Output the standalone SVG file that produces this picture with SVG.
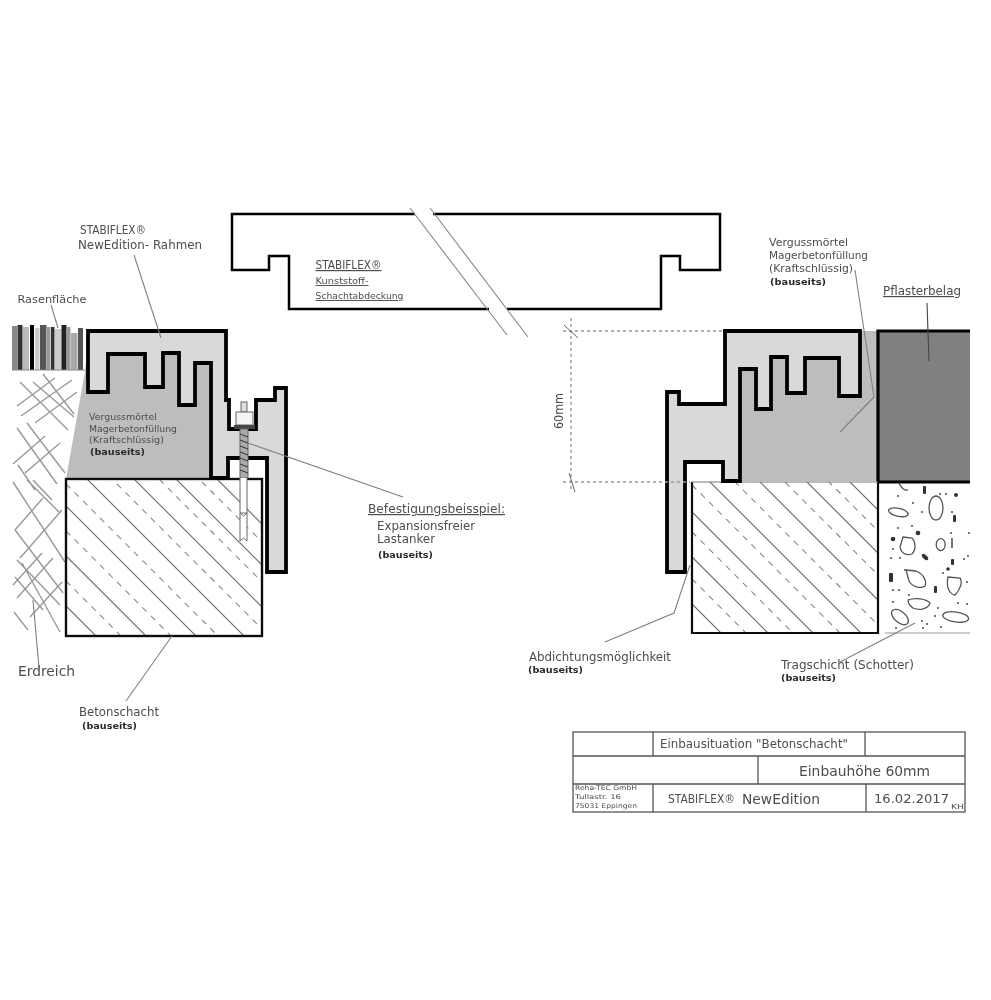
<svg xmlns="http://www.w3.org/2000/svg" width="991" height="1000" viewBox="0 0 991 1000">
<defs>
<filter id="soft" x="0" y="0" width="991" height="1000" filterUnits="userSpaceOnUse"><feGaussianBlur stdDeviation="0.5"/></filter>
<clipPath id="clipL"><rect x="66" y="479" width="196" height="157"/></clipPath>
<clipPath id="clipR"><rect x="692" y="482" width="186" height="151"/></clipPath>
</defs>
<style>
text{font-family:"DejaVu Sans","Liberation Sans",sans-serif;fill:#4d4d4d}
.b{font-weight:bold;fill:#2a2a2a;font-size:9.500px}
.u{text-decoration:underline}
.frame{fill:#d9d9d9;stroke:#000;stroke-width:3.800;stroke-linejoin:miter}
.grout{fill:#bdbdbd}
.box{fill:#fff;stroke:#111;stroke-width:2.200}
.hs{fill:none;stroke:#666;stroke-width:1.100}
.hd{fill:none;stroke:#888;stroke-width:1.100;stroke-dasharray:6 6}
.lead{fill:none;stroke:#808080;stroke-width:1.100}
.lead-dark{fill:none;stroke:#444;stroke-width:1.100}
.earth{fill:none;stroke:#999;stroke-width:1.400}
.rock{fill:none;stroke:#555;stroke-width:1.300}
.dim{fill:none;stroke:#999;stroke-width:1.400;stroke-dasharray:3 3}
.cover{fill:none;stroke:#000;stroke-width:2.500}
.tb{fill:none;stroke:#555;stroke-width:1.300}
.dk{fill:#333}
.dt{fill:#777}
</style>
<rect width="991" height="1000" fill="#fff"/>
<g filter="url(#soft)">
<g id="rasen">
<rect x="12" y="326" width="5" height="44" fill="#888"/><rect x="17.500" y="325" width="5" height="45" fill="#333"/><rect x="23" y="327" width="6" height="43" fill="#bbb"/><rect x="30" y="325" width="4" height="45" fill="#000"/><rect x="35" y="328" width="4.500" height="42" fill="#ccc"/><rect x="40" y="325" width="6.500" height="45" fill="#555"/><rect x="47" y="327" width="3.500" height="43" fill="#999"/><rect x="51" y="327" width="3.500" height="43" fill="#333"/><rect x="55" y="329" width="6.500" height="41" fill="#ccc"/><rect x="61.500" y="325" width="5" height="45" fill="#222"/><rect x="66.500" y="327" width="4" height="43" fill="#999"/><rect x="71" y="333" width="6.500" height="37" fill="#aaa"/><rect x="78" y="328" width="5" height="42" fill="#555"/>
<path d="M12 370H85" stroke="#888" stroke-width="1"/>
</g>
<g id="erdreich-schraffur" class="earth">
<path d="M17 406L55 378M21 416L72 380M35 423L77 392M13 464L45 436M25 473L60 443M20 382L68 430M33 382L74 417M43 374L74 414M27 423L65 473M17 428L57 484M18 465L35 490M13 482L65 562M27 480L60 513M15 530L43 498M20 558L62 510M15 530L63 593M17 560L60 605M15 577L43 610M22 563L60 632M13 585L42 553M17 598L53 558M30 617L62 582M33 480L52 500M14 612L28 630"/>
</g>
<g id="verguss-links"><path class="grout" d="M85 371L66 479H211V340H88Z"/></g>
<g id="betonschacht-links">
<rect class="box" x="66" y="479" width="196" height="157"/>
<g clip-path="url(#clipL)">
<path class="hs" d="M66 328L262 524M66 411L262 607M66 506L262 702M66 556L262 752M66 606L262 802M66 369L262 565M66 458L262 654"/>
<path class="hd" d="M66 346L262 542M66 386L262 582M66 433L262 629M66 484L262 680M66 531L262 727M66 581L262 777"/>
</g>
<rect x="66" y="479" width="196" height="157" fill="none" stroke="#111" stroke-width="2.200"/>
</g>
<g id="rahmen-links"><path class="frame" d="M88 331H226V400H229V429H256V400H275V388H286V572H267V458H228V478H211V363H195V405H179V353H163V387H145V354H108V392H88Z"/></g>
<g id="anker">
<rect x="241" y="402" width="6" height="10" fill="#ddd" stroke="#666" stroke-width="1"/>
<rect x="236" y="412" width="17" height="13" fill="#f4f4f4" stroke="#666" stroke-width="1"/>
<rect x="234" y="425" width="21" height="4" fill="#444"/>
<rect x="240" y="429" width="8" height="49" fill="#aaa" stroke="#666" stroke-width="1"/>
<path d="M240 434L248 437M240 440L248 443M240 446L248 449M240 452L248 455M240 458L248 461M240 464L248 467M240 470L248 473" stroke="#333" stroke-width="1"/>
<path d="M240 478V513L243.500 516L247 513V478M240 513V541L243.500 538L247 541V513M240 513H247" fill="#fff" stroke="#666" stroke-width="1"/>
</g>
<g id="deckel">
<path class="cover" d="M415 214H232V270H269V256H289V309H489M507 309H661V256H680V270H720V214H433"/>
<path d="M410 208L507 335M430 208L528 337" fill="none" stroke="#888" stroke-width="1.100"/>
</g>
<g id="verguss-rechts"><rect class="grout" x="725" y="331" width="153" height="150"/></g>
<g id="pflasterbelag">
<rect x="878" y="331" width="92" height="150" fill="#808080"/>
<path d="M970 331H878V482H970" fill="none" stroke="#000" stroke-width="3.200"/>
</g>
<g id="tragschicht">
<path class="rock" d="M899 483C901 488 905 491 908 490"/>
<ellipse class="rock" cx="898.300" cy="512.300" rx="10" ry="4" transform="rotate(12 898.300 512.300)"/>
<ellipse class="rock" cx="936" cy="508" rx="7" ry="12"/>
<path class="rock" d="M903 537L912 538C916 542 916 550 912 554C906 556 901 553 900 547Z"/>
<ellipse class="rock" cx="940.700" cy="544.700" rx="4.500" ry="6"/>
<path class="rock" d="M906 570L916 571C924 574 927 582 925 586C921 589 912 587 909 581Z"/>
<path class="rock" d="M948 577L960 578C963 582 960 590 955 595C949 594 946 587 948 577Z"/>
<path class="rock" d="M908 600C916 597 926 599 930 603C928 609 920 611 913 608C910 606 908 603 908 600Z"/>
<ellipse class="rock" cx="900" cy="617" rx="10" ry="5.500" transform="rotate(40 900 617)"/>
<ellipse class="rock" cx="955.700" cy="617" rx="13" ry="5" transform="rotate(8 955.700 617)"/>
<rect class="dk" x="923" y="486" width="3" height="8" rx="1"/><circle class="dk" cx="956" cy="495" r="2"/><rect class="dk" x="953" y="515" width="3" height="7" rx="1"/><circle class="dk" cx="918" cy="533" r="2.300"/><circle class="dk" cx="893" cy="539" r="2.300"/><rect class="dt" x="951" y="538" width="2" height="10"/><ellipse class="dk" cx="925" cy="557" rx="4" ry="2" transform="rotate(45 925 557)"/><rect class="dk" x="951" y="559" width="3" height="6" rx="1"/><circle class="dk" cx="948" cy="569" r="1.800"/><rect class="dk" x="889" y="573" width="4" height="9" rx="1"/><rect class="dk" x="934" y="586" width="3" height="7" rx="1"/>
<path class="dt" d="M897 495h2v2h-2zM912 502h2v2h-2zM921 511h2v2h-2zM951 511h2v2h-2zM911 525h2v2h-2zM897 527h2v2h-2zM950 532h2v2h-2zM968 532h2v2h-2zM892 548h2v2h-2zM890 557h2v2h-2zM899 557h2v2h-2zM904 569h2v2h-2zM963 558h2v2h-2zM967 555h2v2h-2zM942 572h2v2h-2zM966 581h2v2h-2zM892 589h2v2h-2zM898 589h2v2h-2zM908 594h2v2h-2zM892 601h2v2h-2zM937 607h2v2h-2zM957 602h2v2h-2zM966 603h2v2h-2zM934 615h2v2h-2zM921 620h2v2h-2zM926 623h2v2h-2zM922 627h2v2h-2zM895 627h2v2h-2zM940 626h2v2h-2zM939 493h2v2h-2zM945 493h2v2h-2z"/>
<path d="M885 633H970" stroke="#999" stroke-width="1.200"/>
</g>
<g id="betonschacht-rechts">
<rect x="692" y="482" width="186" height="151" fill="#fff"/>
<g clip-path="url(#clipR)">
<path class="hs" d="M692 464L878 650M692 414L878 600M692 367L878 553M692 324L878 510M692 512L878 698M692 557L878 743M692 604L878 790"/>
<path class="hd" d="M692 485L878 671M692 532L878 718M692 579L878 765M692 439L878 625M692 389L878 575M692 345L878 531"/>
</g>
<path d="M692 482V633H878V482" fill="none" stroke="#111" stroke-width="2.200"/>
<path d="M692 482H878" stroke="#777" stroke-width="1"/>
</g>
<g id="rahmen-rechts"><path class="frame" d="M725 331H860V396H839V358H805V393H787V357H771V409H756V369H740V481H723V462H685V572H667V392H679V404H725Z"/></g>
<g id="connectors">
<path class="lead" d="M134 255L161 338"/>
<path class="lead" d="M51 305L58 328"/>
<path class="lead" d="M248 443L403 497"/>
<path class="lead" d="M172 636L126 701"/>
<path class="lead" d="M33 600L39 668"/>
<path class="lead" d="M855 270L874 397L840 432"/>
<path class="lead-dark" d="M927 303L929 361"/>
<path class="lead" d="M690 565L674 613L605 642"/>
<path class="lead" d="M915 623L840 662"/>
</g>
<g id="bemassung">
<path class="dim" d="M563 331H725M563 482H690M571 318V490"/>
<path d="M564 325L578 338M569 473L575 492" stroke="#666" stroke-width="1" fill="none"/>
<text transform="translate(563 429) rotate(-90)" font-size="12" textLength="36" lengthAdjust="spacingAndGlyphs">60mm</text>
</g>
<g id="schriftfeld">
<rect class="tb" x="573" y="732" width="392" height="80"/>
<path class="tb" d="M573 756H965M573 784H965M653 732V756M865 732V756M758 756V784M653 784V812M866 784V812"/>
<text x="660" y="748" font-size="12" textLength="188" lengthAdjust="spacingAndGlyphs">Einbausituation "Betonschacht"</text>
<text x="799" y="776" font-size="14" textLength="131" lengthAdjust="spacingAndGlyphs">Einbauhöhe 60mm</text>
<text x="575" y="790" font-size="6.500" textLength="62" lengthAdjust="spacingAndGlyphs">Reha-TEC GmbH</text>
<text x="575" y="799" font-size="6.500" textLength="46" lengthAdjust="spacingAndGlyphs">Tullastr. 16</text>
<text x="575" y="808" font-size="6.500" textLength="62" lengthAdjust="spacingAndGlyphs">75031 Eppingen</text>
<text x="668" y="803" font-size="12" textLength="67" lengthAdjust="spacingAndGlyphs">STABIFLEX®</text>
<text x="742" y="804" font-size="14" textLength="78" lengthAdjust="spacingAndGlyphs">NewEdition</text>
<text x="874" y="803" font-size="13" textLength="75" lengthAdjust="spacingAndGlyphs">16.02.2017</text>
<text x="951" y="809" font-size="7" textLength="13" lengthAdjust="spacingAndGlyphs">KH</text>
</g>
<g id="labels">
<text x="80" y="234" font-size="12" textLength="66" lengthAdjust="spacingAndGlyphs">STABIFLEX®</text>
<text x="78" y="249" font-size="12" textLength="124" lengthAdjust="spacingAndGlyphs">NewEdition- Rahmen</text>
<text x="17.500" y="303" font-size="11" textLength="69" lengthAdjust="spacingAndGlyphs">Rasenfläche</text>
<text x="89" y="420" font-size="9.500" textLength="68" lengthAdjust="spacingAndGlyphs">Vergussmörtel</text>
<text x="89" y="432" font-size="9.500" textLength="88" lengthAdjust="spacingAndGlyphs">Magerbetonfüllung</text>
<text x="89" y="443" font-size="9.500" textLength="75" lengthAdjust="spacingAndGlyphs">(Kraftschlüssig)</text>
<text class="b" x="90" y="455" textLength="55" lengthAdjust="spacingAndGlyphs">(bauseits)</text>
<text class="u" x="315.500" y="269" font-size="12" textLength="66" lengthAdjust="spacingAndGlyphs">STABIFLEX®</text>
<text class="u" x="315.500" y="284" font-size="9.500" textLength="53" lengthAdjust="spacingAndGlyphs">Kunststoff-</text>
<text class="u" x="315.500" y="299" font-size="9.500" textLength="88" lengthAdjust="spacingAndGlyphs">Schachtabdeckung</text>
<text class="u" x="368" y="513" font-size="12" textLength="137" lengthAdjust="spacingAndGlyphs">Befestigungsbeisspiel:</text>
<text x="377" y="530" font-size="12" textLength="98" lengthAdjust="spacingAndGlyphs">Expansionsfreier</text>
<text x="377" y="543" font-size="12" textLength="58" lengthAdjust="spacingAndGlyphs">Lastanker</text>
<text class="b" x="378" y="558" textLength="55" lengthAdjust="spacingAndGlyphs">(bauseits)</text>
<text x="769" y="246" font-size="10.500" textLength="79" lengthAdjust="spacingAndGlyphs">Vergussmörtel</text>
<text x="769" y="259" font-size="10.500" textLength="99" lengthAdjust="spacingAndGlyphs">Magerbetonfüllung</text>
<text x="769" y="272" font-size="10.500" textLength="84" lengthAdjust="spacingAndGlyphs">(Kraftschlüssig)</text>
<text class="b" x="770" y="285" textLength="56" lengthAdjust="spacingAndGlyphs">(bauseits)</text>
<text class="u" x="883" y="295" font-size="12" textLength="78" lengthAdjust="spacingAndGlyphs">Pflasterbelag</text>
<text x="529" y="661" font-size="12.500" textLength="142" lengthAdjust="spacingAndGlyphs">Abdichtungsmöglichkeit</text>
<text class="b" x="528" y="673" textLength="55" lengthAdjust="spacingAndGlyphs">(bauseits)</text>
<text x="781" y="669" font-size="12" textLength="133" lengthAdjust="spacingAndGlyphs">Tragschicht (Schotter)</text>
<text class="b" x="781" y="681" textLength="55" lengthAdjust="spacingAndGlyphs">(bauseits)</text>
<text x="18" y="676" font-size="14" textLength="57" lengthAdjust="spacingAndGlyphs">Erdreich</text>
<text x="79" y="716" font-size="12" textLength="80" lengthAdjust="spacingAndGlyphs">Betonschacht</text>
<text class="b" x="82" y="729" textLength="55" lengthAdjust="spacingAndGlyphs">(bauseits)</text>
</g>
</g>
</svg>
